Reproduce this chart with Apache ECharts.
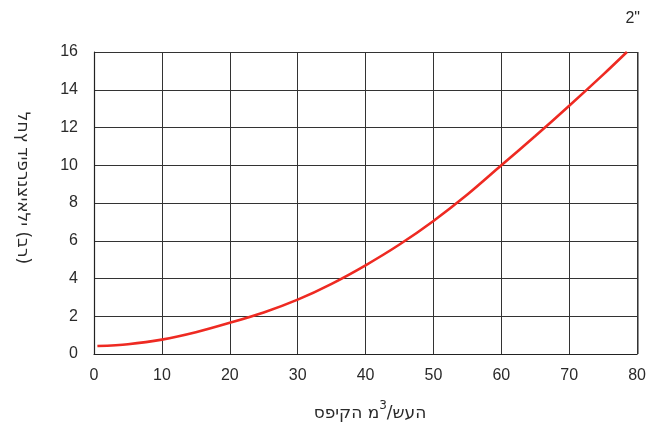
<!DOCTYPE html>
<html>
<head>
<meta charset="utf-8">
<script src="https://cdn.jsdelivr.net/npm/echarts@6/dist/echarts.min.js"></script>
<style>
html,body{margin:0;padding:0;background:#fff;}
#chart{width:649px;height:426px;}
</style>
</head>
<body>
<div id="chart"></div>
<script>
// Data
const flowValues = [0.5, 5, 10, 15, 20, 25, 30, 35, 40, 45, 50, 55, 60, 65, 70, 75, 78.5];
const pressureValues = [0.42, 0.52, 0.76, 1.15, 1.65, 2.2, 2.88, 3.72, 4.7, 5.8, 7.05, 8.45, 10.0, 11.55, 13.15, 14.8, 16.0];
const xTicks = [0, 10, 20, 30, 40, 50, 60, 70, 80];
const yTicks = [0, 2, 4, 6, 8, 10, 12, 14, 16];
const titleText = '2"';
const xNameA = 'ספיקה מ';
const xNameSup = '3';
const xNameB = '/שעה';
const yName = 'לחץ דיפרנציאלי (בר)';

// The reference prints the Hebrew characters left-to-right in stored order;
// a left-to-right mark between characters keeps that visual order on canvas.
const ltr = s => Array.from(s).join('\u200E');

const FONT = '"Liberation Sans", Arial, "DejaVu Sans", sans-serif';
const HFONT = '"DejaVu Sans", "Liberation Sans", sans-serif';
const TXT = '#2a2a2a';

const chart = echarts.init(document.getElementById('chart'), null, {renderer: 'canvas'});
const seriesData = flowValues.map((x, i) => [x, pressureValues[i]]);

chart.setOption({
  animation: false,
  backgroundColor: '#fff',
  title: {
    text: titleText,
    right: 4, top: 6,
    textStyle: {fontFamily: FONT, fontSize: 16, fontWeight: 'normal', color: TXT}
  },
  grid: {left: 94, right: 11, top: 52, bottom: 72, containLabel: false},
  xAxis: {
    type: 'value',
    min: xTicks[0], max: xTicks[xTicks.length - 1], interval: 10,
    axisLine: {show: true, onZero: false, lineStyle: {color: '#222', width: 1.2}},
    axisTick: {show: false},
    axisLabel: {fontFamily: FONT, fontSize: 16, color: TXT, margin: 14},
    splitLine: {show: true, lineStyle: {color: '#333', width: 1}}
  },
  yAxis: {
    type: 'value',
    min: yTicks[0], max: yTicks[yTicks.length - 1], interval: 2,
    axisLine: {show: true, lineStyle: {color: '#222', width: 1.2}},
    axisTick: {show: false},
    axisLabel: {fontFamily: FONT, fontSize: 16, color: TXT, margin: 16},
    splitLine: {show: true, lineStyle: {color: '#333', width: 1}}
  },
  graphic: [
    {
      type: 'text',
      x: 370, y: 411,
      style: {
        text: '{a|' + ltr(xNameA) + '}{s|' + xNameSup + '}{a|' + ltr(xNameB) + '}',
        align: 'center', verticalAlign: 'middle',
        rich: {
          a: {fontFamily: HFONT, fontSize: 17, fill: TXT, color: TXT, verticalAlign: 'bottom', lineHeight: 22},
          s: {fontFamily: HFONT, fontSize: 12, fill: TXT, color: TXT, verticalAlign: 'top', lineHeight: 22, padding: [0, 0, 8, 0]}
        }
      }
    },
    {
      type: 'text',
      x: 22, y: 188,
      rotation: -Math.PI / 2,
      style: {
        text: ltr(yName),
        align: 'center', verticalAlign: 'middle',
        fontFamily: HFONT, fontSize: 17, fill: TXT
      }
    },
    {
      type: 'line', silent: true,
      shape: {x1: 638, y1: 52, x2: 638, y2: 354},
      style: {stroke: '#222', lineWidth: 1}
    }
  ],
  series: [{
    type: 'line',
    data: seriesData,
    smooth: 0.3,
    showSymbol: false,
    lineStyle: {color: '#ee2a22', width: 2.6}
  }]
});
</script>
</body>
</html>
